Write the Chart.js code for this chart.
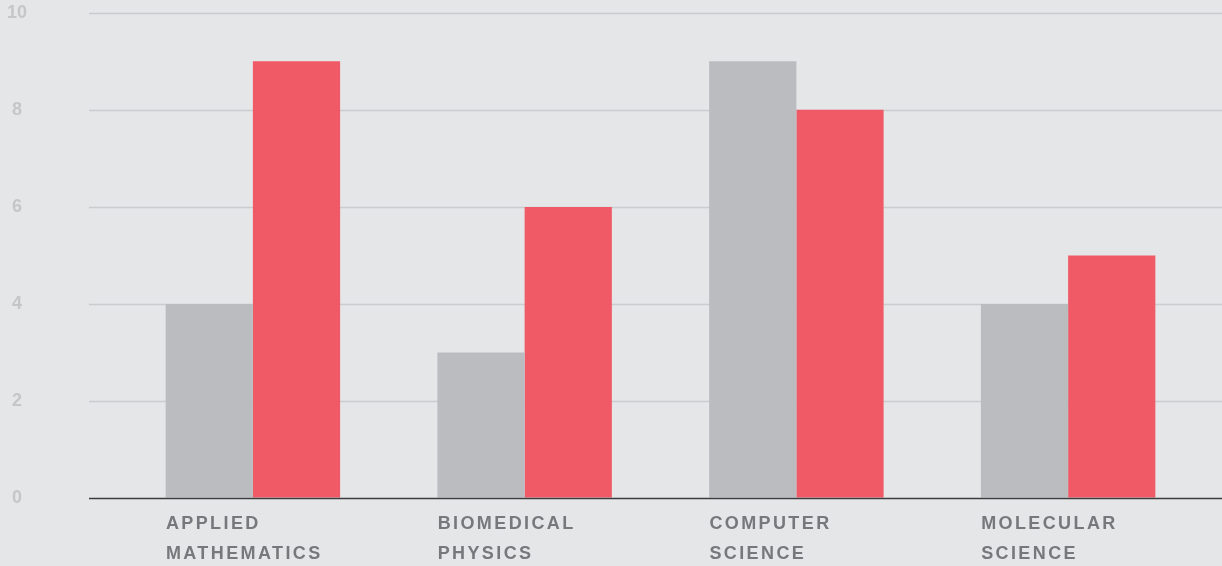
<!DOCTYPE html>
<html>
<head>
  <title>Programme Scores</title>
  <style>
    body {
      margin: 0;
      padding: 0;
      background-color: #e5e6e8;
      font-family: "Liberation Sans", Arial, sans-serif;
    }

    .chart-box {
      width: 1222px;
      height: 566px;
      position: relative;
    }
  </style>
  <script src="https://cdn.jsdelivr.net/npm/chart.js"></script>
</head>
<body>
<div class="chart-box">
  <canvas id="scoreChart"></canvas>
</div>

<script>
  // values
  const categories = [
    ['APPLIED', 'MATHEMATICS'],
    ['BIOMEDICAL', 'PHYSICS'],
    ['COMPUTER', 'SCIENCE'],
    ['MOLECULAR', 'SCIENCE']
  ];
  const greyValues = [4, 3, 9, 4];
  const redValues = [9, 6, 8, 5];
  const yTicks = [0, 2, 4, 6, 8, 10];

  const GRID_LEFT = 89;

  // horizontal grid lines run wider than the bar area, so draw them here
  const wideGrid = {
    id: 'wideGrid',
    beforeDatasetsDraw(chart) {
      const ctx = chart.ctx;
      const y = chart.scales.y;
      ctx.save();
      ctx.strokeStyle = '#cbccce';
      ctx.lineWidth = 1.5;
      yTicks.forEach(v => {
        if (v === 0) return;
        const py = Math.round(y.getPixelForValue(v)) + 0.5;
        ctx.beginPath();
        ctx.moveTo(GRID_LEFT, py);
        ctx.lineTo(chart.width, py);
        ctx.stroke();
      });
      ctx.restore();
    },
    afterDatasetsDraw(chart) {
      const ctx = chart.ctx;
      const py = Math.round(chart.scales.y.getPixelForValue(0)) + 0.5;
      ctx.save();
      ctx.strokeStyle = '#3c3c3e';
      ctx.lineWidth = 1.5;
      ctx.beginPath();
      ctx.moveTo(GRID_LEFT, py);
      ctx.lineTo(chart.width, py);
      ctx.stroke();
      ctx.restore();
    },
    beforeDraw(chart) {
      // spaced-out capitals on the category labels only
      const xs = chart.scales.x;
      if (xs && !xs._spaced) {
        const orig = xs.drawLabels;
        xs.drawLabels = function (area) {
          this.ctx.letterSpacing = '2.4px';
          orig.call(this, area);
          this.ctx.letterSpacing = '0px';
        };
        xs._spaced = true;
      }
    }
  };

  const scoreChart = new Chart(document.getElementById('scoreChart'), {
    type: 'bar',
    data: {
      labels: categories,
      datasets: [
        {
          label: 'Before',
          data: greyValues,
          backgroundColor: '#bbbcbf',
          categoryPercentage: 0.642,
          barPercentage: 1.0
        },
        {
          label: 'After',
          data: redValues,
          backgroundColor: '#f05a67',
          categoryPercentage: 0.642,
          barPercentage: 1.0
        }
      ]
    },
    options: {
      responsive: true,
      maintainAspectRatio: false,
      animation: false,
      layout: {
        padding: { top: 5, right: 18, left: 0, bottom: 0 }
      },
      plugins: {
        legend: { display: false },
        tooltip: { enabled: false }
      },
      scales: {
        x: {
          grid: { display: false, drawTicks: false },
          border: { display: false },
          afterFit(scale) { scale.height = 68; },
          ticks: {
            autoSkip: false,
            maxRotation: 0,
            align: 'start',
            labelOffset: -87,
            padding: 11,
            color: '#77787b',
            font: { family: '"Liberation Sans", Arial, sans-serif', size: 18, weight: 'bold', lineHeight: 1.67 }
          }
        },
        y: {
          min: 0,
          max: 10,
          grid: {
            display: true,
            drawOnChartArea: false,
            drawTicks: true,
            tickLength: 88,
            tickColor: 'rgba(0,0,0,0)'
          },
          border: { display: false },
          afterFit(scale) { scale.width = 117; },
          ticks: {
            stepSize: 2,
            padding: 2,
            crossAlign: 'center',
            color: '#c5c6c8',
            font: { family: '"Liberation Sans", Arial, sans-serif', size: 18, weight: 'bold' }
          }
        }
      }
    },
    plugins: [wideGrid]
  });
</script>

</body>
</html>
